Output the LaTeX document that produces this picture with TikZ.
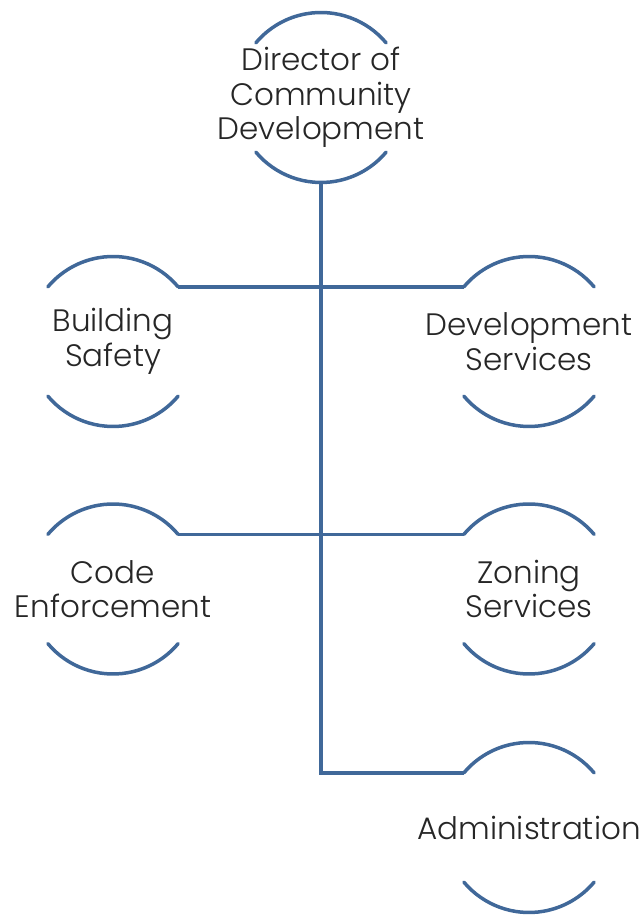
\documentclass[tikz,border=0pt]{standalone}
\usepackage{fontspec}
\setmainfont{Poppins}[UprightFont=* Light]
\usepackage{tikz}
\definecolor{orgblue}{RGB}{64,104,153}
\definecolor{orgtext}{RGB}{38,38,38}

\begin{document}
\begin{tikzpicture}[x=1pt, y=1pt,
    unit/.style={circle, minimum size=170pt, inner sep=0pt, outer sep=0pt},
    unittext/.style={align=center, text=orgtext, font=\fontsize{31}{34.5}\selectfont},
    orgline/.style={orgblue, line width=3.5pt}]
    \useasboundingbox (0,0) rectangle (641,915);

    % units (circle only carries the arcs, text sits on top)
    \node[unit] (dir) at (321, 817.5) {};
    \node[unit] (bs)  at (113, 573.5) {};
    \node[unit] (ds)  at (529, 573.5) {};
    \node[unit] (ce)  at (113, 326) {};
    \node[unit] (zs)  at (529, 326) {};
    \node[unit] (adm) at (529, 87.5) {};

    \node[unittext] (dirtxt) at (dir) {Director of\\Community\\Development};
    \node[unittext] (bstxt)  at (bs)  {Building\\Safety};
    \node[unittext] (dstxt)  at (ds)  {Development\\Services};
    \node[unittext] (cetxt)  at (ce)  {Code\\Enforcement};
    \node[unittext] (zstxt)  at (zs)  {Zoning\\Services};
    \node[unittext] (admtxt) at (adm) {Administration};

    % top and bottom arcs of every unit
    \foreach \n in {dir, bs, ds, ce, zs, adm} {
        \draw[orgline, line cap=round] (\n.40) arc[start angle=40, end angle=140, radius=85pt];
        \draw[orgline, line cap=round] (\n.220) arc[start angle=220, end angle=320, radius=85pt];
    }

    % reporting lines
    \draw[orgline] (dir.south) -- (dir.south |- adm.140) -- (adm.140);
    \draw[orgline] (bs.40) -- (ds.140);
    \draw[orgline] (ce.40) -- (zs.140);
\end{tikzpicture}
\end{document}
